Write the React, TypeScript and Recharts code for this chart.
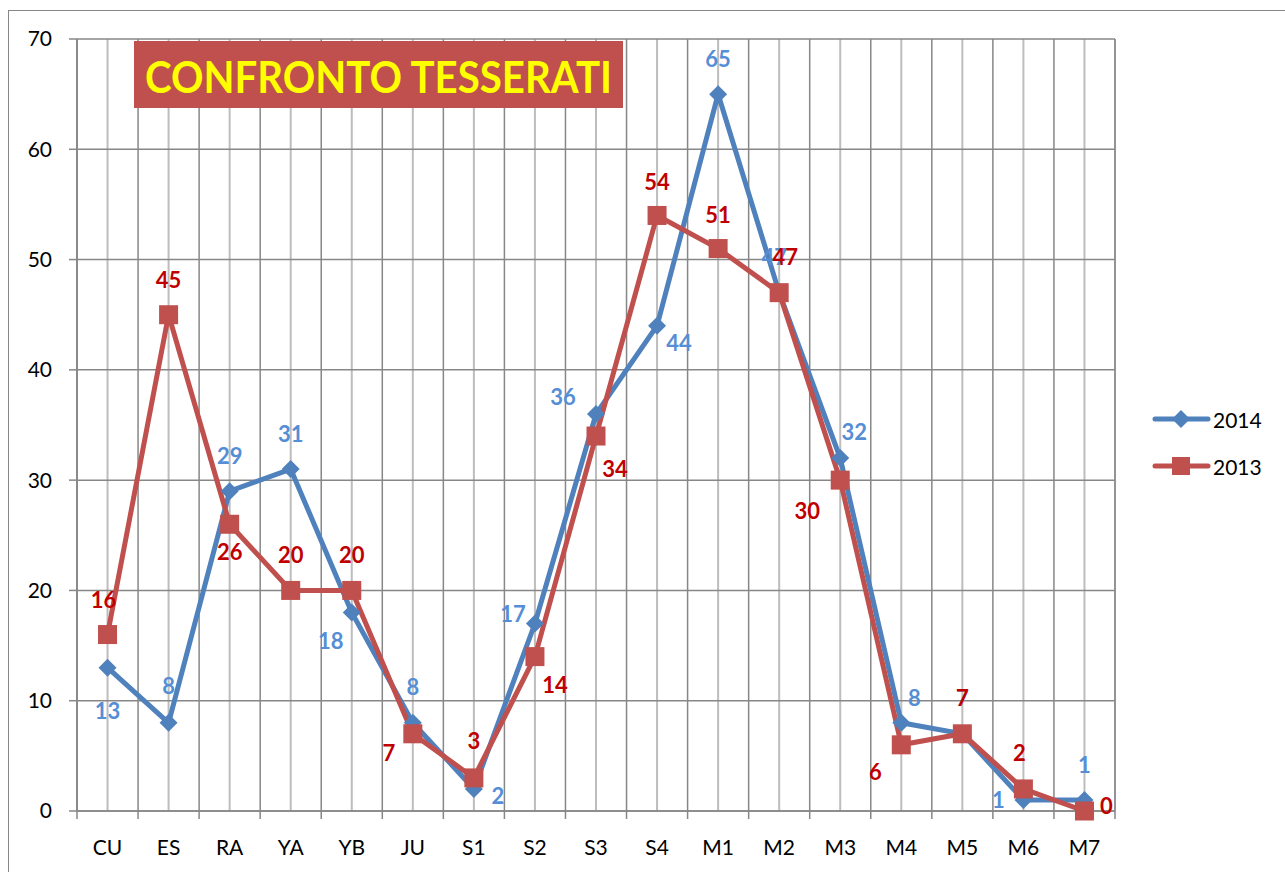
import { LineChart, Line, XAxis, YAxis, CartesianGrid, LabelList } from 'recharts'

const categories = ['CU', 'ES', 'RA', 'YA', 'YB', 'JU', 'S1', 'S2', 'S3', 'S4', 'M1', 'M2', 'M3', 'M4', 'M5', 'M6', 'M7']
const values2014 = [13, 8, 29, 31, 18, 8, 2, 17, 36, 44, 65, 47, 32, 8, 7, 1, 1]
const values2013 = [16, 45, 26, 20, 20, 7, 3, 14, 34, 54, 51, 47, 30, 6, 7, 2, 0]
const yTicks = [0, 10, 20, 30, 40, 50, 60, 70]
const chartTitle = 'CONFRONTO TESSERATI'

// where each data label sits relative to its point (dx, dy)
const labelOffsets2014 = [
  [0, 43], [0, -37], [0, -36], [0, -36], [-21, 28], [0, -36], [24, 7], [-22, -10], [-33, -17],
  [22, 17], [0, -36], [-5, -36], [14, -27], [13, -25], [0, -36], [-25, 0], [0, -35],
]
const labelOffsets2013 = [
  [-4, -35], [0, -35], [0, 27], [0, -36], [0, -36], [-24, 19], [0, -37], [20, 28], [19, 32],
  [0, -34], [0, -34], [6, -36], [-33, 30], [-26, 27], [0, -36], [-4, -36], [22, -6],
]

const data = categories.map((name, i) => ({ name, y2014: values2014[i], y2013: values2013[i] }))

const BLUE = '#4f81bd'
const BLUE_TEXT = '#558ed5'
const RED = '#c0504d'
const RED_TEXT = '#c00000'
const GRID_DARK = '#878787'
const GRID_LIGHT = '#bdbdbd'
const FONT = 'Lato, "Open Sans", sans-serif'

const CHART_W = 1276
const CHART_H = 860
const MARGIN = { top: 28, right: 170, bottom: 0, left: 0 }
const Y_AXIS_W = 68
const PLOT_W = CHART_W - MARGIN.right - Y_AXIS_W
const BAND = PLOT_W / categories.length

function Diamond({ cx, cy }: any) {
  if (cx == null || cy == null) return null
  const r = 9
  return <polygon points={`${cx},${cy - r} ${cx + r},${cy} ${cx},${cy + r} ${cx - r},${cy}`} fill={BLUE} />
}

function Square({ cx, cy }: any) {
  if (cx == null || cy == null) return null
  const s = 19
  return <rect x={cx - s / 2} y={cy - s / 2} width={s} height={s} fill={RED} />
}

function makeLabel(offsets: number[][], color: string) {
  return (props: any) => {
    const { x, y, value, index } = props
    const [dx, dy] = offsets[index] || [0, -30]
    return (
      <text x={x + dx} y={y + dy} textAnchor="middle" dominantBaseline="central"
        fill={color} fontSize={22} fontWeight="bold" fontFamily={FONT}>
        {value}
      </text>
    )
  }
}

function XTick({ x, y, payload }: any) {
  const half = BAND / 2
  const last = payload.value === categories[categories.length - 1]
  return (
    <g>
      <line x1={x - half} y1={y} x2={x - half} y2={y + 8} stroke={GRID_DARK} strokeWidth={1.5} />
      {last && <line x1={x + half} y1={y} x2={x + half} y2={y + 8} stroke={GRID_DARK} strokeWidth={1.5} />}
      <text x={x} y={y + 35} textAnchor="middle" dominantBaseline="central"
        fill="#000" fontSize={21} fontFamily={FONT}>
        {payload.value}
      </text>
    </g>
  )
}

function LegendBox() {
  const items = [
    { name: '2014', color: BLUE, shape: 'diamond' },
    { name: '2013', color: RED, shape: 'square' },
  ]
  return (
    <svg width={130} height={80} style={{ position: 'absolute', left: 1143, top: 394 }}>
      {items.map((it, i) => {
        const cy = 14 + i * 47
        return (
          <g key={it.name}>
            <line x1={3} y1={cy} x2={56} y2={cy} stroke={it.color} strokeWidth={5} strokeLinecap="round" />
            {it.shape === 'diamond'
              ? <polygon points={`29,${cy - 9} 38,${cy} 29,${cy + 9} 20,${cy}`} fill={it.color} />
              : <rect x={20} y={cy - 9} width={18} height={18} fill={it.color} />}
            <text x={61} y={cy} dominantBaseline="central" fontSize={21} fontFamily={FONT} fill="#000">{it.name}</text>
          </g>
        )
      })}
    </svg>
  )
}

export default function App() {
  return (
    <div style={{ position: 'absolute', left: 8, top: 10, width: 1290, height: 870, border: `1px solid ${GRID_DARK}`, background: '#fff' }}>
      <LineChart width={CHART_W} height={CHART_H} data={data} margin={MARGIN}>
        <CartesianGrid horizontal={false} stroke={GRID_LIGHT} strokeWidth={2} />
        <CartesianGrid
          stroke={GRID_DARK}
          strokeWidth={1.5}
          verticalCoordinatesGenerator={({ offset }: any) =>
            categories.map((_, i) => offset.left + (i * offset.width) / categories.length).concat(offset.left + offset.width)
          }
        />
        <XAxis dataKey="name" scale="band" tickLine={false} tickSize={0} tickMargin={0} height={60}
          axisLine={{ stroke: GRID_DARK, strokeWidth: 1.5 }} tick={<XTick />} interval={0} />
        <YAxis domain={[0, 70]} ticks={yTicks} width={Y_AXIS_W} tickSize={8} tickMargin={17}
          axisLine={{ stroke: GRID_DARK, strokeWidth: 1.5 }} tickLine={{ stroke: GRID_DARK, strokeWidth: 1.5 }}
          tick={{ fill: '#000', fontSize: 21, fontFamily: FONT }} />
        <Line type="linear" dataKey="y2014" name="2014" stroke={BLUE} strokeWidth={5}
          dot={<Diamond />} activeDot={false} isAnimationActive={false}>
          <LabelList dataKey="y2014" content={makeLabel(labelOffsets2014, BLUE_TEXT)} />
        </Line>
        <Line type="linear" dataKey="y2013" name="2013" stroke={RED} strokeWidth={5}
          dot={<Square />} activeDot={false} isAnimationActive={false}>
          <LabelList dataKey="y2013" content={makeLabel(labelOffsets2013, RED_TEXT)} />
        </Line>
      </LineChart>
      <LegendBox />
      <svg style={{ position: 'absolute', left: 125, top: 30 }} width={490} height={68}>
        <rect x={0} y={0} width={489} height={67} fill={RED} />
        <text x={11} y={52} textLength={467} lengthAdjust="spacingAndGlyphs"
          fill="#ffff00" fontSize={43} fontWeight="bold" fontFamily={FONT}>
          {chartTitle}
        </text>
      </svg>
    </div>
  )
}
